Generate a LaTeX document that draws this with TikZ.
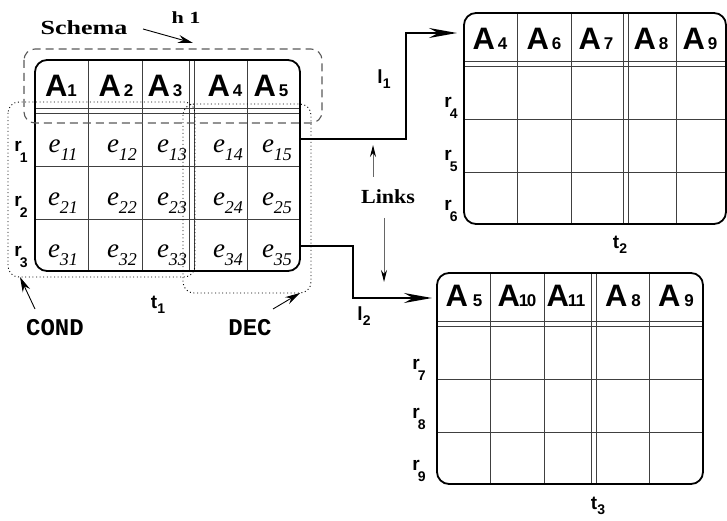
\documentclass[tikz,border=0pt]{standalone}
\usepackage{fontspec}
\setmainfont{Liberation Serif}
\setsansfont{Liberation Sans}
\setmonofont{Liberation Mono}
\usetikzlibrary{arrows.meta}

% attribute heading: bold A with a subscript; #1 = gap, #2 = index
\newcommand\attr[2]{{\sffamily\bfseries\fontsize{31}{31}\selectfont A\kern#1\fontsize{17}{17}\selectfont #2}}
% cell value e_{ij}
\newcommand\cellval[1]{{\itshape\fontsize{27}{27}\selectfont e\raisebox{-8pt}{\fontsize{18}{18}\selectfont #1}}}
% row / table / link labels
\newcommand\rowlab[1]{{\sffamily\bfseries\fontsize{19}{19}\selectfont r\kern-2pt\raisebox{-11pt}{\fontsize{14}{14}\selectfont #1}}}
\newcommand\sublab[2]{{\sffamily\bfseries\fontsize{19}{19}\selectfont #1\raisebox{-5pt}{\fontsize{14}{14}\selectfont #2}}}

% a relation table: #1 left, #2 top, #3 width, #4 position of the double column rule
\newcommand\reltable[4]{%
  \begin{scope}[shift={(#1,#2)}]
    \foreach \cx in {53,107,#4,#4+5,212}
      \draw[gridline] (\cx,0) -- (\cx,211);
    \foreach \cy in {48,53,106,159}
      \draw[gridline] (0,\cy) -- (#3,\cy);
    \draw[outer] (0,0) rectangle (#3,211);
  \end{scope}}

\begin{document}
\begin{tikzpicture}[x=1pt,y=-1pt,
  gridline/.style={draw=black!75,line width=0.9pt},
  outer/.style={draw=black,line width=1.8pt,rounded corners=12pt},
  schemabox/.style={draw=black!65,line width=1.1pt,dash pattern=on 8pt off 5pt,rounded corners=11pt},
  groupbox/.style={draw=black,line width=0.9pt,dash pattern=on 1pt off 2.6pt,rounded corners=11pt},
  link/.style={draw=black,line width=1.6pt,-{Stealth[length=28pt,width=10pt]}},
  pointer/.style={draw=black,line width=0.9pt,-{Stealth[length=15pt,width=8pt]}},
  hint/.style={draw=black!60,line width=1pt,-{Stealth[length=12pt,width=6pt,black]}},
  lab/.style={inner sep=0pt}]
\useasboundingbox (0,0) rectangle (727,521);

% ---- table t1 ----
\reltable{35}{60}{265}{154}
\node[lab,anchor=base] (h11) at (61,97) {\attr{0pt}{1}};
\node[lab,anchor=base] (h12) at (116,97) {\attr{3pt}{2}};
\node[lab,anchor=base] (h13) at (165,97) {\attr{3pt}{3}};
\node[lab,anchor=base] (h14) at (225,97) {\attr{3pt}{4}};
\node[lab,anchor=base] (h15) at (271,97) {\attr{3pt}{5}};
\foreach \r/\y in {1/150,2/203,3/255}{
  \node[lab] (e\r1) at (63,\y) {\cellval{\r1}};
  \node[lab] (e\r2) at (122,\y) {\cellval{\r2}};
  \node[lab] (e\r3) at (172,\y) {\cellval{\r3}};
  \node[lab] (e\r4) at (228,\y) {\cellval{\r4}};
  \node[lab] (e\r5) at (277,\y) {\cellval{\r5}};
}
\node[lab] (r1) at (21,152) {\rowlab{1}};
\node[lab] (r2) at (21,207) {\rowlab{2}};
\node[lab] (r3) at (21,257) {\rowlab{3}};
\node[lab] (t1) at (158,305) {\sublab{t}{1}};

% schema and attribute groups of t1
\draw[schemabox] (24,49) rectangle (322,123);
\draw[groupbox] (8,102) rectangle (195,277);
\draw[groupbox] (183,104) rectangle (311,293);

\node[lab,font=\bfseries\fontsize{20}{20}\selectfont] (schema) at (84,28) {\scalebox{1.3}[1]{Schema}};
\node[lab,font=\bfseries\fontsize{17}{17}\selectfont] (h1) at (186,18) {\scalebox{1.3}[1]{h 1}};
\coordinate (schemaend) at (193,43);
\draw[pointer] (143,29) -- (schemaend);

\node[lab,font=\ttfamily\bfseries\fontsize{24}{24}\selectfont] (cond) at (55,328) {COND};
\node[lab,font=\ttfamily\bfseries\fontsize{24}{24}\selectfont] (dec) at (250,328) {DEC};
\coordinate (condtip) at (20,277);
\coordinate (dectip) at (300,293);
\draw[pointer] (35,309) -- (condtip);
\draw[pointer] (273,309) -- (dectip);

% ---- table t2 ----
\reltable{464}{13}{262}{159}
\node[lab,anchor=base] (h24) at (490,50) {\attr{3pt}{4}};
\node[lab,anchor=base] (h26) at (544,50) {\attr{3pt}{6}};
\node[lab,anchor=base] (h27) at (596,50) {\attr{3pt}{7}};
\node[lab,anchor=base] (h28) at (651,50) {\attr{3pt}{8}};
\node[lab,anchor=base] (h29) at (700,50) {\attr{3pt}{9}};
\node[lab] (r4) at (451,108) {\rowlab{4}};
\node[lab] (r5) at (451,161) {\rowlab{5}};
\node[lab] (r6) at (451,211) {\rowlab{6}};
\node[lab] (t2) at (620,245) {\sublab{t}{2}};

% ---- table t3 ----
\reltable{437}{273}{266}{154}
\node[lab,anchor=base] (h35) at (464,306) {\attr{5pt}{5}};
\node[lab,anchor=base] (h310) at (517,306) {\attr{-1pt}{1\kern-1.5pt0}};
\node[lab,anchor=base] (h311) at (566,306) {\attr{-1pt}{1\kern-1.5pt1}};
\node[lab,anchor=base] (h38) at (623,306) {\attr{4pt}{8}};
\node[lab,anchor=base] (h39) at (676,306) {\attr{4pt}{9}};
\node[lab] (r7) at (419,370) {\rowlab{7}};
\node[lab] (r8) at (419,419) {\rowlab{8}};
\node[lab] (r9) at (419,471) {\rowlab{9}};
\node[lab] (t3) at (598,506) {\sublab{t}{3}};

% ---- links ----
\coordinate (l1from) at (300,139);
\coordinate (l1to) at (457,33);
\coordinate (l2from) at (300,246);
\coordinate (l2to) at (432,298);
\draw[link] (l1from) -| (406,33) -- (l1to);
\draw[link] (l2from) -| (353,298) -- (l2to);
\node[lab] (l1) at (384,79) {\sublab{l}{1}};
\node[lab] (l2) at (364,316) {\sublab{l}{2}};

\node[lab,font=\bfseries\fontsize{20}{20}\selectfont] (links) at (388,197) {\scalebox{1.1}[1]{Links}};
\coordinate (upTip) at (373,145);
\coordinate (downTip) at (384,282);
\draw[hint] (373,177) -- (upTip);
\draw[hint] (384,218) -- (downTip);
\end{tikzpicture}
\end{document}
